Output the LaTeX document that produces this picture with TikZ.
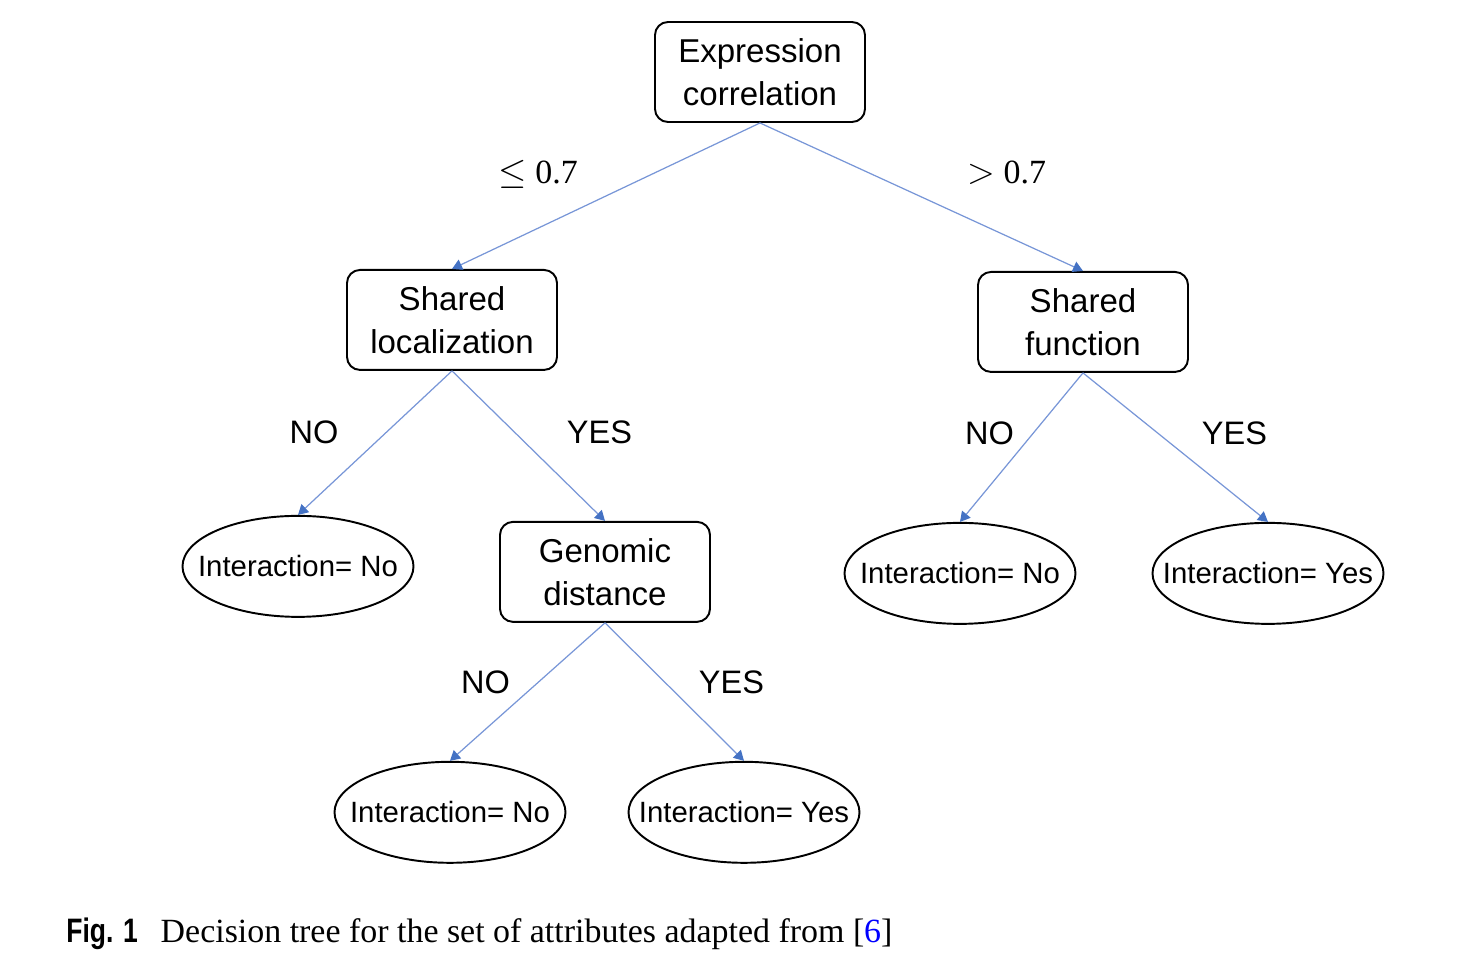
\documentclass[tikz,border=0pt]{standalone}
\usepackage{fontspec}
\setmainfont{Liberation Serif}
\setsansfont{Liberation Sans}
\usepackage{graphicx}
\usepackage{xcolor}
\usepackage{tikz}
\usetikzlibrary{arrows.meta, positioning, shapes.geometric}

\definecolor{edgeblue}{RGB}{120,150,215}
\definecolor{tipblue}{RGB}{68,114,196}

\begin{document}
\begin{tikzpicture}[
  node distance=3cm and 3cm,
  font=\sffamily,
  test/.style={
    rectangle, rounded corners=2.6mm,
    draw, line width=1.1pt, align=center,
    inner sep=0pt,
    minimum width=4.2cm,
    minimum height=2cm,
    font=\sffamily\fontsize{18.8}{24.5}\selectfont
  },
  leaf/.style={
    ellipse, draw, line width=1.1pt,
    inner xsep=-1cm, inner ysep=0pt,
    minimum width=4.62cm,
    minimum height=2.02cm,
    font=\sffamily\fontsize{16.7}{19}\selectfont
  },
  branch/.style={draw=edgeblue, line width=0.7pt,
    -{Triangle[length=2mm, width=2.2mm, color=tipblue]}},
  cond/.style={font=\sffamily\fontsize{18.5}{20}\selectfont},
  thr/.style={font=\rmfamily\fontsize{19.3}{22}\selectfont},
]
\useasboundingbox (0,0) rectangle (29.52,-19.4);

% --- Root ---
\node[test] (EC) at (15.2,-1.44) {Expression\\ correlation};

% --- Second level ---
\node[test, below=2.92cm of EC, xshift=-6.16cm] (SL) {Shared\\ localization};
\node[test, below=2.96cm of EC, xshift=6.46cm] (SF) {Shared\\ function};

% --- Third level ---
\node[leaf, below=2.88cm of SL, xshift=-3.08cm] (L1) {Interaction= No};
\node[test, below=3.0cm of SL, xshift=3.06cm] (GD) {Genomic\\ distance};
\node[leaf, below=2.98cm of SF, xshift=-2.46cm] (R1) {Interaction= No};
\node[leaf, below=2.98cm of SF, xshift=3.7cm] (R2) {Interaction= Yes};

% --- Bottom ---
\node[leaf, below=2.76cm of GD, xshift=-3.1cm] (B1) {Interaction= No};
\node[leaf, below=2.76cm of GD, xshift=2.78cm] (B2) {Interaction= Yes};

% --- Branches ---
\draw[branch] (EC.south) -- node[thr, xshift=-1.36cm, yshift=4.4mm] {$\leq$\kern5pt 0.7} (SL.north);
\draw[branch] (EC.south) -- node[thr, xshift=1.7cm, yshift=4.8mm] {$>$\kern5pt 0.7} (SF.north);

\draw[branch] (SL.south) -- node[cond, xshift=-1.22cm, yshift=2.2mm] {NO} (L1.north);
\draw[branch] (SL.south) -- node[cond, xshift=1.42cm, yshift=2.8mm] {YES} (GD.north);

\draw[branch] (SF.south) -- node[cond, xshift=-0.64cm, yshift=2.8mm] {NO} (R1.north);
\draw[branch] (SF.south) -- node[cond, xshift=1.18cm, yshift=2.8mm] {YES} (R2.north);

\draw[branch] (GD.south) -- node[cond, xshift=-0.84cm, yshift=2mm] {NO} (B1.north);
\draw[branch] (GD.south) -- node[cond, xshift=1.14cm, yshift=2mm] {YES} (B2.north);

% --- Caption ---
\node[anchor=base west, inner sep=0pt, font=\rmfamily\fontsize{19.3}{22}\selectfont] (caption) at (1.32,-18.84)
  {\scalebox{0.78}[1]{\sffamily\bfseries Fig. 1}\hspace{13pt}Decision tree for the set of attributes adapted from [\textcolor{blue}{6}]};

\end{tikzpicture}
\end{document}
